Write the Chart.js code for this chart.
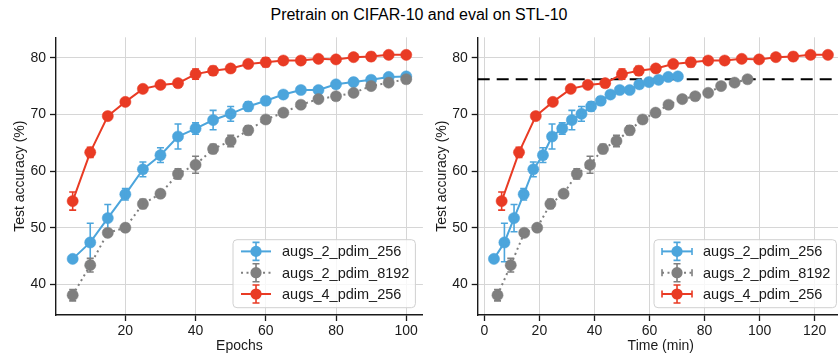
<!DOCTYPE html>
<html>
<head>
<meta charset="utf-8">
<script src="https://cdn.jsdelivr.net/npm/chart.js@4.4.0/dist/chart.umd.min.js"></script>
<style>
  html, body { margin: 0; padding: 0; background: #fff; overflow: hidden; width: 838px; height: 360px; }
  #title { position: absolute; left: 0; top: 5px; width: 838px; text-align: center;
           font: 16px "Liberation Sans", Arial, sans-serif; color: #000; line-height: 20px; }
  canvas { position: absolute; top: 30px; }
  #epochChart { left: 0; }
  #timeChart { left: 425px; }
</style>
</head>
<body>
<div id="title">Pretrain on CIFAR-10 and eval on STL-10</div>
<canvas id="epochChart" width="429" height="330"></canvas>
<canvas id="timeChart" width="425" height="330"></canvas>
<script>
// ---- data ----
const epochs = [5, 10, 15, 20, 25, 30, 35, 40, 45, 50, 55, 60, 65, 70, 75, 80, 85, 90, 95, 100];

const acc256 = [44.5, 47.4, 51.7, 55.9, 60.3, 62.8, 66.1, 67.5, 69.0, 70.1, 71.4, 72.4, 73.5, 74.3, 74.3, 75.3, 75.7, 76.1, 76.6, 76.7];
const err256 = [0.4, 3.4, 2.4, 1.0, 1.3, 1.3, 2.2, 1.0, 1.7, 1.3, 0.8, 0.7, 0.5, 0.5, 0.5, 0.5, 0.6, 0.5, 0.5, 0.4];

const acc8192 = [38.1, 43.4, 49.1, 50.0, 54.2, 56.0, 59.5, 61.1, 63.9, 65.3, 67.2, 69.1, 70.3, 71.7, 72.7, 73.2, 73.8, 75.0, 75.6, 76.2];
const err8192 = [1.0, 1.2, 0.5, 0.5, 0.8, 0.4, 0.9, 1.5, 0.8, 1.0, 0.8, 0.6, 0.5, 0.5, 0.5, 0.6, 0.5, 0.5, 0.5, 0.4];

const acc4x256 = [54.7, 63.3, 69.7, 72.2, 74.5, 75.2, 75.5, 77.1, 77.7, 78.1, 78.9, 79.2, 79.5, 79.5, 79.8, 79.7, 80.1, 80.2, 80.5, 80.5];
const err4x256 = [1.6, 0.9, 0.4, 0.5, 0.4, 0.3, 0.3, 0.9, 0.8, 0.4, 0.4, 0.8, 0.5, 0.4, 0.5, 0.4, 0.4, 0.7, 0.3, 0.4];

// wall-clock minutes for each eval point
const time256 = [3.5, 7.3, 10.8, 14.3, 17.8, 21.3, 24.6, 28.3, 31.8, 35.3, 38.8, 42.3, 45.8, 49.2, 52.8, 56.3, 59.8, 63.3, 66.8, 70.3];
const time8192 = [4.8, 9.6, 14.5, 19.2, 24.0, 28.8, 33.6, 38.4, 43.1, 48.0, 52.8, 57.5, 62.2, 66.9, 71.9, 76.6, 81.3, 86.0, 90.9, 95.6];
const time4x256 = [6.3, 12.6, 18.7, 24.9, 31.4, 37.6, 43.9, 50.0, 56.1, 62.3, 68.6, 75.0, 81.3, 87.3, 93.5, 99.8, 105.9, 112.2, 118.5, 124.8];
const timeErr = [0.6, 0.8, 0.7];  // per series: 256, 8192, 4x256

const baselineAcc = 76.2;

const epochTicks = [20, 40, 60, 80, 100];
const timeTicks = [0, 20, 40, 60, 80, 100, 120];
const accTicks = [40, 50, 60, 70, 80];

const labels = ['augs_2_pdim_256', 'augs_2_pdim_8192', 'augs_4_pdim_256'];

// ---- style ----
const FONT = '"Liberation Sans", Arial, sans-serif';
const BLUE = '#4ca5dc';
const GRAY = '#7f7f7f';
const RED = '#e93b24';
const INK = '#1a1a1a';

function series(label, xs, ys, yErr, xErr, color, dotted, order) {
    return {
        label: label,
        data: xs.map((x, i) => ({ x: x, y: ys[i] })),
        yErr: yErr,
        xErr: xErr,
        borderColor: color,
        backgroundColor: color,
        borderWidth: 2,
        borderDash: dotted ? [2, 3.5] : [],
        pointRadius: 5.6,
        pointBorderWidth: 0.5,
        pointBorderColor: color,
        pointBackgroundColor: color,
        tension: 0,
        order: order
    };
}

// error bars, drawn right after each dataset
const errorBars = {
    id: 'errorBars',
    afterDatasetDraw(chart, args) {
        const ds = chart.data.datasets[args.index];
        if (!ds.yErr) return;
        const { ctx } = chart;
        const xs = chart.scales.x, ys = chart.scales.y;
        const cap = 3.5;
        ctx.save();
        ctx.strokeStyle = ds.borderColor;
        ctx.lineWidth = 1.6;
        ctx.setLineDash([]);
        ds.data.forEach((p, i) => {
            const px = xs.getPixelForValue(p.x);
            const py = ys.getPixelForValue(p.y);
            const t = ys.getPixelForValue(p.y + ds.yErr[i]);
            const b = ys.getPixelForValue(p.y - ds.yErr[i]);
            ctx.beginPath();
            ctx.moveTo(px, t); ctx.lineTo(px, b);
            ctx.moveTo(px - cap, t); ctx.lineTo(px + cap, t);
            ctx.moveTo(px - cap, b); ctx.lineTo(px + cap, b);
            if (ds.xErr) {
                const l = xs.getPixelForValue(p.x - ds.xErr);
                const r = xs.getPixelForValue(p.x + ds.xErr);
                ctx.moveTo(l, py); ctx.lineTo(r, py);
                ctx.moveTo(l, py - cap); ctx.lineTo(l, py + cap);
                ctx.moveTo(r, py - cap); ctx.lineTo(r, py + cap);
            }
            ctx.stroke();
        });
        ctx.restore();
    }
};

// matplotlib style legend in the lower right corner
const insetLegend = {
    id: 'insetLegend',
    afterDraw(chart) {
        const { ctx, chartArea } = chart;
        const items = chart.data.datasets;
        ctx.save();
        ctx.font = '14.5px ' + FONT;
        const textW = Math.max(...items.map(d => ctx.measureText(d.label).width));
        const w = 8 + 30 + 11 + textW + 6, h = 68;
        const x0 = chartArea.right - 7.5 - w, y0 = chartArea.bottom - 7.3 - h;
        ctx.beginPath();
        ctx.roundRect(x0, y0, w, h, 4);
        ctx.fillStyle = 'rgba(255,255,255,0.8)';
        ctx.fill();
        ctx.strokeStyle = '#d0d0d0';
        ctx.lineWidth = 1;
        ctx.stroke();
        items.forEach((d, i) => {
            const cy = y0 + 11.7 + i * 21.3;
            const hx0 = x0 + 8, hx1 = hx0 + 30, cx = (hx0 + hx1) / 2;
            ctx.strokeStyle = d.borderColor;
            ctx.lineWidth = 2;
            ctx.setLineDash(d.borderDash);
            ctx.beginPath(); ctx.moveTo(hx0, cy); ctx.lineTo(hx1, cy); ctx.stroke();
            ctx.setLineDash([]);
            ctx.lineWidth = 1.6;
            ctx.beginPath();
            ctx.moveTo(cx, cy - 9); ctx.lineTo(cx, cy + 9);
            ctx.moveTo(cx - 3.5, cy - 9); ctx.lineTo(cx + 3.5, cy - 9);
            ctx.moveTo(cx - 3.5, cy + 9); ctx.lineTo(cx + 3.5, cy + 9);
            if (d.xErr) {
                ctx.moveTo(hx0, cy - 3.5); ctx.lineTo(hx0, cy + 3.5);
                ctx.moveTo(hx1, cy - 3.5); ctx.lineTo(hx1, cy + 3.5);
            }
            ctx.stroke();
            ctx.fillStyle = d.borderColor;
            ctx.beginPath(); ctx.arc(cx, cy, 5.6, 0, Math.PI * 2); ctx.fill();
            ctx.fillStyle = INK;
            ctx.textBaseline = 'middle';
            ctx.textAlign = 'left';
            ctx.fillText(d.label, hx1 + 11, cy + 1);
        });
        ctx.restore();
    }
};

// horizontal dashed reference line
const refLine = {
    id: 'refLine',
    beforeDatasetsDraw(chart, args, opts) {
        if (opts.value == null) return;
        const { ctx, chartArea } = chart;
        const y = chart.scales.y.getPixelForValue(opts.value);
        ctx.save();
        ctx.strokeStyle = '#000';
        ctx.lineWidth = 2.2;
        ctx.setLineDash([12, 7]);
        ctx.beginPath();
        ctx.moveTo(chartArea.left, y);
        ctx.lineTo(chartArea.right, y);
        ctx.stroke();
        ctx.restore();
    }
};

function makeChart(canvas, cfg) {
    return new Chart(canvas, {
        type: 'line',
        data: { datasets: cfg.datasets },
        options: {
            responsive: false,
            animation: false,
            events: [],
            layout: { padding: { top: 7.3, right: 2, left: 0, bottom: 0 } },
            plugins: {
                legend: { display: false },
                tooltip: { enabled: false },
                refLine: { value: cfg.refValue }
            },
            scales: {
                x: {
                    type: 'linear',
                    min: cfg.xMin,
                    max: cfg.xMax,
                    afterBuildTicks: s => { s.ticks = cfg.xTicks.map(v => ({ value: v })); },
                    afterFit: s => { s.height = 45; s.paddingLeft = 0; s.paddingRight = 0; },
                    grid: { color: '#d6d6d6', lineWidth: 1, tickLength: 6, tickColor: INK, tickWidth: 1.3 },
                    border: { color: INK, width: 1.4 },
                    ticks: { color: INK, font: { family: FONT, size: 14 }, padding: 2, maxRotation: 0, autoSkip: false },
                    title: { display: true, text: cfg.xTitle, color: INK, font: { family: FONT, size: 14 }, padding: { top: 0, bottom: 5 } }
                },
                y: {
                    min: 34.6,
                    max: 83.6,
                    afterBuildTicks: s => { s.ticks = accTicks.map(v => ({ value: v })); },
                    afterFit: s => { s.width = cfg.yWidth; s.paddingTop = 0; s.paddingBottom = 0; },
                    grid: { color: '#d6d6d6', lineWidth: 1, tickLength: 6, tickColor: INK, tickWidth: 1.3 },
                    border: { color: INK, width: 1.4 },
                    ticks: { color: INK, font: { family: FONT, size: 14 }, padding: 4 },
                    title: { display: true, text: 'Test accuracy (%)', color: INK, font: { family: FONT, size: 14 }, padding: { top: cfg.yTitlePad, bottom: 0 } }
                }
            }
        },
        plugins: [errorBars, insetLegend, refLine]
    });
}

makeChart(document.getElementById('epochChart'), {
    datasets: [
        series(labels[0], epochs, acc256, err256, null, BLUE, false, 2),
        series(labels[1], epochs, acc8192, err8192, null, GRAY, true, 1),
        series(labels[2], epochs, acc4x256, err4x256, null, RED, false, 0)
    ],
    xMin: 0.25, xMax: 104.75, xTicks: epochTicks, xTitle: 'Epochs',
    yWidth: 56, yTitlePad: 12, refValue: null
});

makeChart(document.getElementById('timeChart'), {
    datasets: [
        series(labels[0], time256, acc256, err256, timeErr[0], BLUE, false, 2),
        series(labels[1], time8192, acc8192, err8192, timeErr[1], GRAY, true, 1),
        series(labels[2], time4x256, acc4x256, err4x256, timeErr[2], RED, false, 0)
    ],
    xMin: -2.4, xMax: 130.6, xTicks: timeTicks, xTitle: 'Time (min)',
    yWidth: 52.7, yTitlePad: 8.6, refValue: baselineAcc
});
</script>
</body>
</html>
